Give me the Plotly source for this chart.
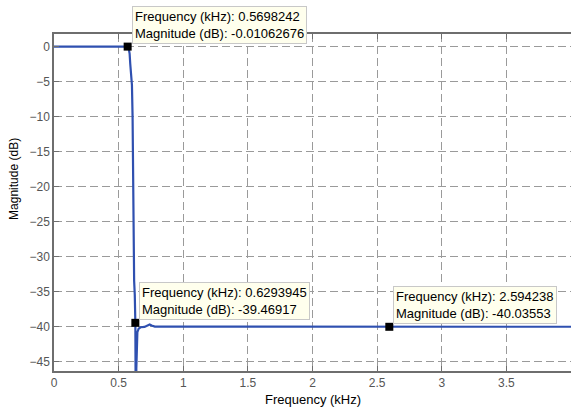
import plotly.graph_objects as go

# Frequency response (kHz, dB)
freq_khz = [0.0, 0.1, 0.2, 0.3, 0.4, 0.5, 0.55, 0.5698242, 0.578, 0.585, 0.59, 0.595,
            0.603, 0.608, 0.612, 0.615, 0.62, 0.625, 0.6293945, 0.631, 0.6325,
            0.6345, 0.637, 0.64, 0.645, 0.655, 0.67, 0.70, 0.725, 0.74, 0.755, 0.78,
            0.9, 1.2, 1.6, 2.0, 2.594238, 3.0, 3.5, 4.0]
mag_db = [0.0, 0.0, 0.0, 0.0, 0.0, 0.0, 0.0, -0.01062676, -0.3, -1.0, -2.5, -4.5,
          -5.5, -10.0, -20.0, -31.5, -33.5, -35.5, -39.46917, -46.5, -70.0,
          -70.0, -46.0, -42.0, -40.8, -40.3, -40.1, -40.05, -39.85, -39.7, -39.85, -40.0,
          -40.02, -40.03, -40.03, -40.03, -40.03553, -40.03, -40.03, -40.03]

# Data tips
tip_freq = [0.5698242, 0.6293945, 2.594238]
tip_mag = [-0.01062676, -39.46917, -40.03553]
tip_freq_txt = ["0.5698242", "0.6293945", "2.594238"]
tip_mag_txt = ["-0.01062676", "-39.46917", "-40.03553"]

x_ticks = [0, 0.5, 1, 1.5, 2, 2.5, 3, 3.5]
x_tick_labels = ["0", "0.5", "1", "1.5", "2", "2.5", "3", "3.5"]
y_ticks = [0, -5, -10, -15, -20, -25, -30, -35, -40, -45]

fig = go.Figure()
fig.add_trace(go.Scatter(x=freq_khz, y=mag_db, mode="lines",
                         line=dict(color="#2f50b0", width=2.2), hoverinfo="skip"))
fig.add_trace(go.Scatter(x=tip_freq, y=tip_mag, mode="markers",
                         marker=dict(symbol="square", color="black", size=8), hoverinfo="skip"))

for f, m, ft, mt in zip(tip_freq, tip_mag, tip_freq_txt, tip_mag_txt):
    fig.add_annotation(x=f, y=m, xref="x", yref="y",
                       text=f"Frequency (kHz): {ft}<br>Magnitude (dB): {mt}",
                       showarrow=False, xanchor="left", yanchor="bottom", align="left",
                       xshift=4, yshift=3,
                       bgcolor="#ffffed", bordercolor="#c8c8c8", borderwidth=1, borderpad=2,
                       font=dict(family="Liberation Sans, Arial", size=13, color="black"))

fig.add_annotation(text="Frequency (kHz)", xref="paper", yref="paper", x=0.5, y=-0.086,
                   showarrow=False, xanchor="center", yanchor="middle",
                   font=dict(family="Liberation Sans, Arial", size=13, color="black"))
fig.add_annotation(text="Magnitude (dB)", xref="paper", yref="paper", x=-0.0774, y=0.57,
                   showarrow=False, xanchor="center", yanchor="middle", textangle=-90,
                   font=dict(family="Liberation Sans, Arial", size=12, color="black"))

fig.update_layout(
    width=571, height=409,
    margin=dict(l=54, r=0, t=34, b=38),
    plot_bgcolor="white", paper_bgcolor="white",
    showlegend=False,
    font=dict(family="Liberation Sans, Arial", size=12, color="#555555"),
)
fig.update_xaxes(range=[0, 4.0], tickvals=x_ticks, ticktext=x_tick_labels,
                 showgrid=True, gridcolor="#9a9a9a", griddash="8px,4px", gridwidth=1,
                 showline=True, linecolor="#6e6e6e", linewidth=1.5, mirror="ticks",
                 ticks="inside", ticklen=5, tickcolor="#6e6e6e", zeroline=False,
                 tickfont=dict(size=12, color="#555555"))
fig.update_yaxes(range=[-46.35, 1.79], tickvals=y_ticks,
                 showgrid=True, gridcolor="#9a9a9a", griddash="8px,4px", gridwidth=1,
                 showline=True, linecolor="#6e6e6e", linewidth=1.5,
                 ticks="inside", ticklen=5, tickcolor="#6e6e6e", zeroline=False,
                 tickfont=dict(size=12, color="#555555"))

fig.write_html("out.html")
